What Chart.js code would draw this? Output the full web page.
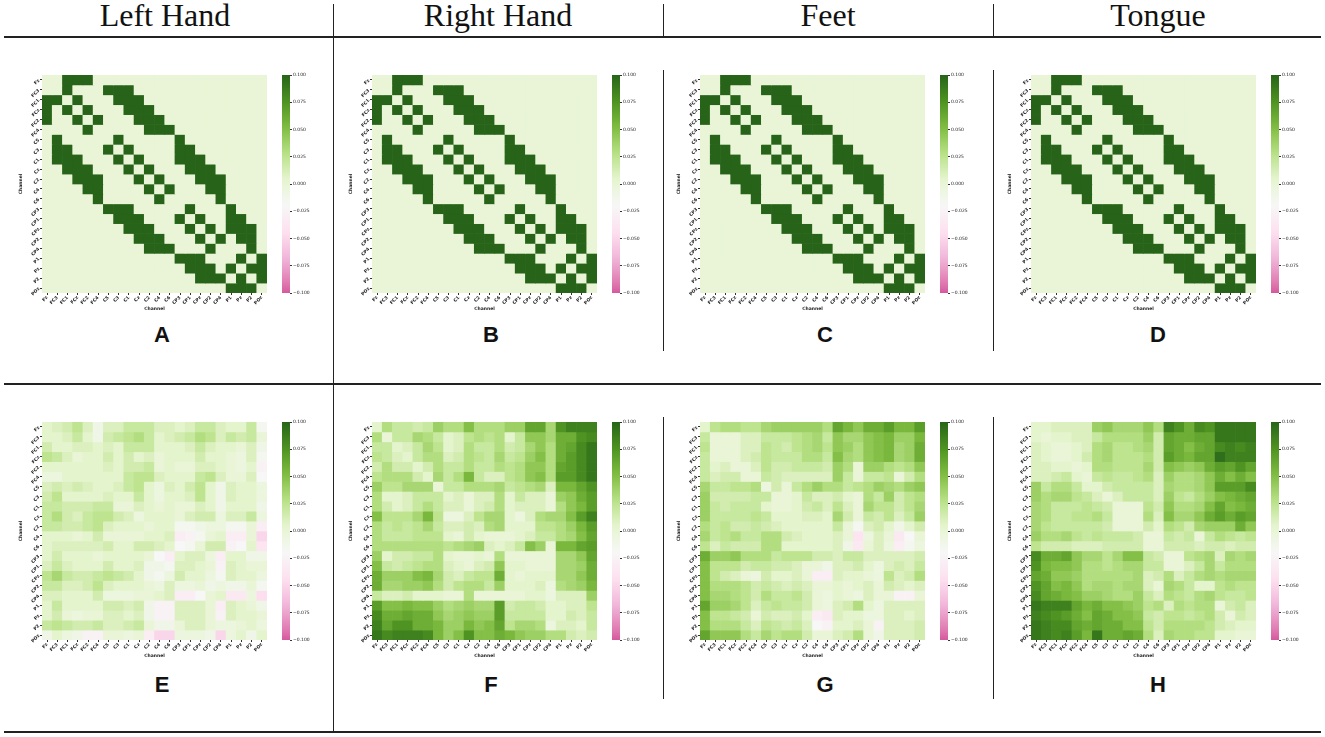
<!DOCTYPE html>
<html>
<head>
<meta charset="utf-8">
<script src="https://cdn.jsdelivr.net/npm/chart.js@4.4.1/dist/chart.umd.min.js"></script>
<style>
  body { margin:0; width:1325px; height:737px; position:relative; background:#fff; overflow:hidden; }
  .hdr { position:absolute; top:-3px; font-family:"Liberation Serif","Times New Roman",serif; font-size:32px; color:#111; text-align:center; width:330px; }
  .lbl { position:absolute; font-family:"Liberation Sans",Arial,sans-serif; font-weight:bold; font-size:22px; color:#111; width:40px; text-align:center; line-height:22px; }
  .ln { position:absolute; background:#222; }
  canvas { position:absolute; }
</style>
</head>
<body>
<script>
// EEG channels (BCI IV 2a montage), used for both axes
const channels = ['Fz','FC3','FC1','FCz','FC2','FC4','C5','C3','C1','Cz','C2','C4','C6',
                  'CP3','CP1','CPz','CP2','CP4','P1','Pz','P2','POz'];
const conditions = ['Left Hand','Right Hand','Feet','Tongue'];
const topLetters = ['A','B','C','D'];
const bottomLetters = ['E','F','G','H'];
const colorbarTicks = [0.1, 0.075, 0.05, 0.025, 0, -0.025, -0.05, -0.075, -0.1];
const VMIN = -0.1, VMAX = 0.1;

// top row: prior adjacency (1 = neighbour, shown at 0.100)
const adjacency = [
  '0011100000000000000000',
  '0010001110000000000000',
  '1101000111000000000000',
  '1010100011100000000000',
  '1001010001110000000000',
  '0000100000111000000000',
  '0100000100000100000000',
  '0110001010000110000000',
  '0111000101000111000000',
  '0011100010100011100000',
  '0001110001010001110000',
  '0000110000101000110000',
  '0000010000010000010000',
  '0000001110000010001000',
  '0000000111000101001100',
  '0000000011100010101110',
  '0000000001110001010110',
  '0000000000111000100010',
  '0000000000000111000101',
  '0000000000000011101011',
  '0000000000000001110101',
  '0000000000000000001110'
];

// bottom row: learned adjacency, in units of 0.01
const leftHand = [
  [0.5,1,1.5,2.5,1,-1,1,1,2,2,2,1,1,0.5,1,2,2,1,0.5,0.5,2,-1.5],
  [0.5,0.5,1,2,0.5,-1,1.5,2,2.5,3,2,0.5,1,1.5,2,3,2.5,1,2,1.5,2,0],
  [1.5,0.5,0.5,1,1,0.5,1,0.5,2,2,2,0.5,0.5,0.5,1,2,1,0.5,0.5,0,1,-1],
  [2.5,2,1,0,0.5,0.5,1.5,0.5,1.5,0.5,1,0,0.5,0.5,0.5,1.5,0.5,0.5,0,-0.5,1,-1.5],
  [0.5,0.5,0.5,0.5,0.5,0.5,1,0.5,1.5,1.5,2,0,0.5,0,0,1,1,0.5,0,-0.5,0.5,-2.5],
  [-0.5,-0.5,0.5,0.5,0.5,0.5,0.5,0.5,2,2.5,2.5,1,0.5,0.5,0.5,2,2.5,1,0,0,1,-2],
  [1,1.5,1,1.5,1,0.5,0.5,1,2,2.5,0.5,-0.5,1,0.5,1.5,2.5,0.5,-1,1,0.5,0.5,-0.5],
  [1.5,2.5,0.5,0.5,0.5,0.5,1,0.5,0.5,2,0.5,-0.5,0.5,0.5,1,2.5,0.5,-1,1,0.5,0.5,-0.5],
  [2,2,1.5,1.5,1.5,2,2,0,0,1,0.5,0,0.5,0,0,1,0.5,-1,0.5,0.5,0.5,-1],
  [2,3,1.5,1,2,2.5,2.5,1.5,1,-0.5,0.5,0.5,0.5,0,1,1.5,1.5,-0.5,1,1,2,-0.5],
  [2,2,1.5,1.5,2,2.5,1,0.5,0.5,0.5,0,0.5,0.5,-1.5,-1.5,-1,-0.5,-0.5,-1.5,-1.5,0,-3],
  [0.5,0.5,0.5,0,0.5,1.5,0,0,0,0,0.5,0.5,1,-3,-2.5,-1.5,0,0.5,-3,-3,0,-5],
  [0.5,1,1,1,1,1,1.5,0.5,0.5,1.5,1.5,1,0.5,-2,-1.5,0,1.5,1.5,-2.5,-2,0.5,-4],
  [0.5,1.5,0.5,0.5,0.5,0,0.5,0.5,0.5,0.5,0,-2,-3,0.5,1,1,-0.5,-3,0.5,0.5,-1,-1],
  [1,2,1,0.5,0.5,0.5,1.5,0.5,0.5,1,-1,-1,-1.5,1,1,0.5,0,-2.5,1,0.5,0,0],
  [2.5,3.5,2,1.5,1.5,2,2.5,2,1.5,0.5,-1,-1.5,-0.5,1.5,0.5,0.5,-0.5,-1.5,1,0.5,0.5,-0.5],
  [2,2,1,1,1.5,2.5,1,0.5,0.5,0.5,0,-0.5,1,-0.5,-0.5,0,-1,-0.5,-1,-1,0,-1.5],
  [1,1,0.5,0.5,0.5,1.5,-0.5,-0.5,-0.5,0,0,0.5,1,-3,-3,-2,0,0.5,-3.5,-3.5,-0.5,-4.5],
  [0.5,2,0.5,0.5,0.5,0.5,1.5,1.5,1,1.5,-1,-2.5,-2.5,1,1,1,0,-3,1,0.5,0,-1],
  [0.5,1.5,0,-0.5,0,0,1,1,0.5,1,-1,-2.5,-2.5,1,1,1,0,-2.5,1,0.5,0.5,0],
  [2,2.5,2,1.5,1.5,2,1,1,1.5,2,0,-1,-1,0,1,1,0,-0.5,-0.5,0,0.5,-0.5],
  [-1,0.5,-0.5,-1,-2.5,-2.5,0,0,-0.5,0,-3,-5,-5,-0.5,-0.5,-0.5,-1,-5,-0.5,0.5,-1,0.5]
];
const rightHand = [
  [0.5,3,2,2,1.5,2,4,3,3,5,3,3,3,4,4,6.5,6.5,3.5,7.5,8.5,8.5,8.5],
  [3,0,2,2,3.5,3,2,0.5,1,2.5,3,2.5,3,0.5,2,4.5,4.5,3.5,6,6,7.5,8],
  [2,2,0.5,1,2,3.5,2.5,0.5,1,3,2,2,3,1.5,2,3.5,4.5,3,6,6.5,8,9],
  [2.5,2,1,0.5,2,3,3,1,1.5,3,2.5,2,3.5,2,2.5,4,5,3,6,7,8,9],
  [1.5,3,1.5,1.5,0.5,1.5,3,2,2,3,2,2,3,2.5,3,4.5,4.5,3,6.5,7,8,9],
  [2.5,3,3,3,1.5,0.5,3.5,2,3,5.5,2,1,1,2.5,3,4.5,5,3,7,7,8,9],
  [4,2.5,2.5,3.5,3.5,3.5,0,2,2,3,3,3,3.5,2,2.5,3,3.5,1,5.5,5.5,6.5,7.5],
  [3,0.5,0.5,1,2,2,2,0.5,1,0,1,1,3,0.5,2,1,1,0,4,4.5,6,7],
  [3,1.5,0.5,1,2,3,2,1,1,0,1,1.5,3,0.5,1,1,1,0,3,4.5,5.5,7],
  [5,2.5,2.5,2.5,3.5,5.5,2.5,-0.5,-0.5,1,2.5,3.5,3.5,0.5,-0.5,1,3,3.5,3.5,5,7,8.5],
  [3,2,2.5,2,2.5,3.5,2,1,1,1.5,1,3,3.5,0.5,0.5,0.5,2.5,2.5,3,4,5.5,7],
  [3,2,2,2,2.5,2.5,2.5,0.5,0,1.5,0.5,0,0,0,0.5,1,2,2,3,3.5,5,6.5],
  [3,3,3,3,3,3,3,2.5,3,3.5,4,1,0.5,1,2,5,4,0,5.5,5.5,6.5,7],
  [4,0.5,1.5,1.5,2,2,3,0.5,0,0,0.5,0,3,0,0,0,0,0,3.5,3.5,4.5,6.5],
  [5,2,1.5,2,2.5,3,3,1,0.5,0,1,1.5,4.5,0.5,0.5,0,0,0,3.5,3.5,4,6],
  [6,4,4,4,5,5.5,3.5,1.5,1,2,2.5,2.5,6,0.5,0,0.5,0.5,0.5,3.5,3.5,4.5,6],
  [6,3.5,3.5,4,4,4.5,3,1.5,2.5,3,3,2,4,0.5,0.5,0.5,1,-0.5,3,3.5,4,5.5],
  [2,1,1,1.5,0.5,0.5,0.5,0,0,3,0,0,0,0,0,0.5,0.5,-0.5,1,1,1,4],
  [7,5,5,5.5,5,5,4,3,3.5,4,3.5,3.5,7,1.5,2,2,1.5,0.5,0.5,1,1,2.5],
  [8,6,6,6.5,6,6,4.5,3.5,4,4.5,4,4,7,2,2,2,2,0.5,0.5,1.5,1,2],
  [8.5,6.5,7.5,7.5,6,6,5.5,4,4,5.5,4.5,5,6.5,2.5,3.5,3.5,3,-0.5,1,1,0.5,2],
  [9,8,8.5,8.5,8.5,8,5.5,4,5,7.5,5,5,6,5.5,4.5,4,4,3,3,1.5,1,1.5]
];
const feet = [
  [0.5,2.5,3,3,2.5,2.5,3.5,4,4,4,4,4,3,6.5,5.5,4.5,6,6,7,5.5,5.5,7],
  [2,0,0,0,1,1,2,2,2,2.5,3,3.5,2,4.5,3.5,3.5,4.5,5,5.5,4,4,5.5],
  [2.5,0,0,0,1,1,2.5,2,1.5,2.5,3,3.5,2.5,4.5,4,3,4.5,5,5.5,3.5,4,6],
  [2,0,0,0,1,1.5,2.5,2,2,2,3,3,2,5,3.5,3,4.5,5,5.5,3.5,4,6],
  [2,0.5,1,0,0,1,2.5,1.5,1.5,2,2,2,1.5,4,3,0,4,4,3,2.5,3,4.5],
  [2,1,1.5,1.5,0,0,2,1.5,1,1,1,1,1,4,2,0,2,2,2.5,0,1.5,3],
  [3.5,2,2,2.5,2.5,3,-0.5,1.5,0,2,3,4,3,3,2,2.5,3,4,3.5,3,4,4.5],
  [4,1.5,1.5,1.5,1.5,2,2,0,0,0.5,2,1,1,1.5,0.5,0,3,2,4,1.5,2.5,3],
  [4,2,1.5,2,2,2,0.5,0,0,0.5,1.5,2,1,2.5,1,0,3.5,2.5,2.5,1.5,2.5,3.5],
  [4,2,2,2,2,2.5,2,0.5,0.5,0.5,1,1,0.5,3.5,1.5,0,2,1.5,2.5,1,2,4],
  [3,2,2.5,1.5,1.5,2,1.5,1,0.5,0.5,0.5,0.5,0.5,2,0,-1.5,1,1.5,0.5,-1,0.5,1.5],
  [3.5,2,2.5,3,2,2,3,3,1.5,1,0.5,0.5,0.5,1,0,-4,-0.5,1,0,-3.5,-2,0],
  [2.5,1,2,1.5,1.5,1.5,3,3,0.5,0.5,0.5,0.5,0.5,1,-1,-3.5,0,1,-0.5,-3,-1.5,-0.5],
  [6,4,4,4.5,3,3,3,2,2.5,2.5,2.5,1.5,1.5,1,2,2,1,1,1,1,1,1.5],
  [5,2.5,2.5,2.5,1.5,2,2,1.5,1.5,1,0,0,-1,1,1,1.5,0.5,-0.5,1,1.5,1,2],
  [5,2.5,1.5,1,0,-0.5,1.5,0.5,0.5,1,0,-3,-3,1,0.5,0.5,0,-0.5,2.5,1,1.5,3],
  [5,3,3,3,2.5,1.5,2,1.5,1,1.5,1,0,0,0.5,0,0.5,1,0,1.5,1,0.5,1],
  [5,3.5,3.5,3,2.5,1.5,3,2,2,2.5,1.5,0,-0.5,0.5,0,-0.5,1,0,0,-2.5,-2.5,0],
  [6.5,4,4,3.5,2.5,1,2,2.5,2,2,1.5,0,-0.5,1,1.5,3,0.5,-0.5,1,1,1,1],
  [5,2.5,2.5,2,1.5,0,1.5,1,1,1.5,0.5,-3,-3.5,1,0.5,0.5,-0.5,-0.5,1,1,0.5,1],
  [5,3,3,3,2,1,2.5,2,1.5,2,1,-2,-2.5,0.5,0.5,1,0,-2.5,1,1,1,1.5],
  [6.5,4.5,4.5,4.5,3,2,3.5,2.5,3,3,1.5,0,0,1,1.5,3,0,-1,1,1,1,1.5]
];
const tongue = [
  [0.5,0.5,1,1,1,1,4,4.5,3.5,3.5,3.5,4.5,3,8.5,7.5,6,8,7.5,9,9,9,9],
  [0.5,0,0.5,0.5,1,1,2,3,3,3,3,4,1.5,6.5,6,6,6.5,6.5,9,9,9,9],
  [1,0.5,0,0,0.5,1,3,3.5,2.5,2.5,3,3.5,1.5,6.5,6,5,6,6.5,8,8.5,8,8.5],
  [1,0.5,0,0,0.5,1.5,3,3.5,2.5,2.5,2.5,3,1.5,7,6,5.5,6.5,6.5,9.5,8.5,8.5,8.5],
  [1,1,0.5,0.5,0,0.5,3,3,2.5,2.5,2.5,3.5,1.5,5,4.5,4,4.5,6,7,6.5,7.5,6.5],
  [1,1,1.5,2,0.5,0,2,2.5,2,2,2.5,3,1,4,3,3,3.5,4.5,6,5,6,5],
  [4,2,3,3,2,0.5,0.5,1.5,2,2,2,2,1,3.5,3,3,3.5,4.5,7,7,7,8],
  [4,3,3.5,3.5,2.5,2,1,0,1,2,2,2,1,4,2.5,2,3,4,5,5.5,6,6.5],
  [3.5,3,2,2,2,2.5,2,1.5,0,0,0,2.5,1.5,4.5,3,3,3.5,5,6.5,5,5.5,6],
  [3.5,3,2,2,2.5,2.5,3,2,0,0,0,3,1,5,3.5,3.5,4.5,6,7,6,7,6.5],
  [3.5,2.5,2,2,2,2,2,1.5,0,0,0,1.5,0.5,3,2.5,1.5,3.5,4,4,4,6,4.5],
  [4,3,3,3.5,2.5,2,2.5,2,2,2,1.5,0,0,2,1.5,2,0,2,3,2.5,2,2.5],
  [2.5,1.5,1.5,1.5,1,1,1,1.5,1.5,1.5,1.5,0,0,1.5,1.5,1.5,1,1.5,1.5,1,1.5,1.5],
  [8,6,6,6.5,4.5,3.5,3.5,2.5,3.5,5,5,2,1.5,0,0,2.5,3,3.5,1,3.5,3,3.5],
  [7.5,5.5,5,5,4.5,3,3,2.5,3,3.5,3.5,2,2,0,0,1,2,3.5,2,3,3,3],
  [6.5,6,4.5,4.5,4,3,3,3,3,3,3.5,1,1.5,3,1,2,3,3.5,3,3.5,3.5,3.5],
  [7.5,6.5,5,5.5,4.5,3,3.5,3.5,3,3.5,3.5,1,0,3.5,3,2,0.5,0.5,2.5,3,2.5,2.5],
  [8,6.5,6,5.5,5,4,4,3.5,3,3,4,2,1,3,2.5,2,3,3.5,2.5,2,2,2.5],
  [9,8.5,8.5,8.5,6.5,5.5,6,5,5,4.5,4,2.5,3,1,3,2.5,3,3,0,1.5,2,1],
  [8.5,8,7.5,7,6,5,6.5,6,5,5,4.5,2,1.5,2.5,2.5,2,2.5,3,1.5,0,1.5,1],
  [9,8.5,8,8,6.5,6,6.5,6,6,5,5,2.5,1.5,3,3,3,3,2.5,1.5,1,0.5,0.5],
  [9,8.5,8,8.5,7,5.5,9,6,6,6.5,6,3,1,3.5,3,3,2.5,2.5,0.5,0.5,0,0]
];
const UNIT = 0.01;

// PiYG, lower end trimmed so white sits just below zero
const PIYG = ['#8e0152','#c51b7d','#de77ae','#f1b6da','#fde0ef','#f7f7f7','#e6f5d0','#b8e186','#7fbc41','#4d9221','#276419'];
const hex = h => [1, 3, 5].map(i => parseInt(h.substr(i, 2), 16));
function cmap(v) {
  let f = Math.min(1, Math.max(0, (v - VMIN) / (VMAX - VMIN)));
  const t = (1 / 6 + 5 / 6 * f) * 10;
  const i = Math.min(9, Math.floor(t)), k = t - i;
  const a = hex(PIYG[i]), b = hex(PIYG[i + 1]);
  const c = a.map((x, j) => Math.round(x + (b[j] - x) * k));
  return `rgb(${c[0]},${c[1]},${c[2]})`;
}

const FONT = 'DejaVu Sans';
const tickFont = {family: FONT, size: 4.5, weight: 'bold'};
const heatLeft = [42, 372, 700, 1031];
const heatTop = [75, 422];
const heatW = 225, heatH = [218, 218];

function addCanvas(x, y, w, h) {
  const cv = document.createElement('canvas');
  cv.width = w; cv.height = h;
  cv.style.left = x + 'px'; cv.style.top = y + 'px';
  document.body.appendChild(cv);
  return cv;
}

function heatmap(x, y, h, matrix) {
  const cv = addCanvas(x - 24, y - 4, 24 + heatW + 3, 4 + h + 19);
  const datasets = matrix.map((row, r) => ({
    data: row.map(() => [r, r + 1]),
    backgroundColor: row.map(v => cmap(v)),
    borderWidth: 0,
    barPercentage: 1,
    categoryPercentage: 1,
    grouped: false
  }));
  new Chart(cv.getContext('2d'), {
    type: 'bar',
    data: {labels: channels, datasets},
    options: {
      responsive: false, animation: false,
      layout: {padding: {top: 4, right: 3, left: 0, bottom: 0}},
      plugins: {legend: {display: false}, tooltip: {enabled: false}},
      events: [],
      scales: {
        x: {
          grid: {drawOnChartArea: false, offset: false, tickLength: 2, color: '#333'},
          border: {display: false},
          ticks: {font: tickFont, color: '#222', minRotation: 45, maxRotation: 45, padding: 0, autoSkip: false},
          title: {display: true, text: 'Channel', font: {family: FONT, size: 4.5, weight: 'bold'}, color: '#222', padding: 0},
          afterFit: s => { s.height = 19; }
        },
        y: {
          type: 'linear', min: 0, max: channels.length, reverse: true,
          afterBuildTicks: s => { s.ticks = channels.map((_, i) => ({value: i + 0.5})); },
          grid: {drawOnChartArea: false, tickLength: 2, color: '#333'},
          border: {display: false},
          ticks: {font: tickFont, color: '#222', minRotation: 45, maxRotation: 45, padding: 1, autoSkip: false,
                  callback: v => channels[Math.floor(v)]},
          title: {display: true, text: 'Channel', font: {family: FONT, size: 4.5, weight: 'bold'}, color: '#222', padding: 0},
          afterFit: s => { s.width = 24; }
        }
      }
    }
  });
}

function colorbar(x, y, h) {
  const cv = addCanvas(x, y - 4, 8 + 32, h + 8);
  new Chart(cv.getContext('2d'), {
    type: 'bar',
    data: {
      labels: [''],
      datasets: [{
        data: [[VMIN, VMAX]],
        backgroundColor: ctx => {
          const a = ctx.chart.chartArea;
          if (!a) return '#fff';
          const g = ctx.chart.ctx.createLinearGradient(0, a.bottom, 0, a.top);
          for (let k = 0; k <= 40; k++) g.addColorStop(k / 40, cmap(VMIN + (VMAX - VMIN) * k / 40));
          return g;
        },
        borderWidth: 0, barPercentage: 1, categoryPercentage: 1
      }]
    },
    options: {
      responsive: false, animation: false, events: [],
      layout: {padding: {top: 4, bottom: 4, left: 0, right: 0}},
      plugins: {legend: {display: false}, tooltip: {enabled: false}},
      scales: {
        x: {display: false},
        y: {
          position: 'right', min: VMIN, max: VMAX,
          afterBuildTicks: s => { s.ticks = colorbarTicks.map(v => ({value: v})); },
          grid: {drawOnChartArea: false, tickLength: 2, color: '#333'},
          border: {display: false},
          ticks: {font: {family: FONT, size: 4.5}, color: '#222', padding: 1,
                  callback: v => (v < 0 ? '\u2212' : '') + Math.abs(v).toFixed(3)},
          afterFit: s => { s.width = 32; }
        }
      }
    }
  });
}

function addDiv(cls, x, y, w, h, text) {
  const d = document.createElement('div');
  d.className = cls;
  d.style.left = x + 'px'; d.style.top = y + 'px';
  if (w != null) d.style.width = w + 'px';
  if (h != null) d.style.height = h + 'px';
  if (text) d.textContent = text;
  document.body.appendChild(d);
}

// frame lines
addDiv('ln', 4, 36, 1317, 1.5);
addDiv('ln', 4, 383, 1317, 1.5);
addDiv('ln', 4, 731, 1317, 1.5);
addDiv('ln', 332.5, 4, 1.5, 728);
[662.5, 992.5].forEach(x => {
  addDiv('ln', x, 4, 1.5, 33);
  addDiv('ln', x, 70, 1.5, 281);
  addDiv('ln', x, 417, 1.5, 282);
});

// headers
const colStart = [0, 333, 663, 993];
conditions.forEach((c, i) => addDiv('hdr', colStart[i], -3, 330, null, c));

const letterX = [162, 491, 825, 1158];
const adjMatrix = adjacency.map(s => s.split('').map(ch => ch === '1' ? 0.1 : 0));
const learned = [leftHand, rightHand, feet, tongue];

for (let i = 0; i < 4; i++) {
  heatmap(heatLeft[i], heatTop[0], heatH[0], adjMatrix);
  colorbar(heatLeft[i] + 240, heatTop[0], heatH[0]);
  addDiv('lbl', letterX[i] - 20, 324, null, null, topLetters[i]);

  heatmap(heatLeft[i], heatTop[1], heatH[1], learned[i].map(r => r.map(v => v * UNIT)));
  colorbar(heatLeft[i] + 240, heatTop[1], heatH[1]);
  addDiv('lbl', letterX[i] - 20, 674, null, null, bottomLetters[i]);
}
</script>
</body>
</html>
